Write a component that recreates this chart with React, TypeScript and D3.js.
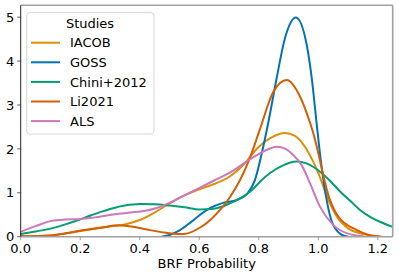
import React from "react";
import * as d3 from "d3";

const xTicks = [0, 0.2, 0.4, 0.6, 0.8, 1.0, 1.2];
const yTicks = [0, 1, 2, 3, 4, 5];
const seriesNames = ["IACOB", "GOSS", "Chini+2012", "Li2021", "ALS"];
const seriesColors = ["#DE8F05", "#0173B2", "#029E73", "#D55E00", "#CC78BC"];

const iacob: [number, number][] = [
  [0, 0.01], [0.1, 0.03], [0.2, 0.13], [0.3, 0.23], [0.35, 0.28], [0.4, 0.38], [0.45, 0.55],
  [0.5, 0.76], [0.55, 0.94], [0.6, 1.08], [0.65, 1.2], [0.7, 1.36], [0.75, 1.65], [0.8, 2.05],
  [0.84, 2.25], [0.888, 2.36], [0.92, 2.3], [0.955, 2.05], [0.98, 1.75], [1.0, 1.45],
  [1.034, 0.84], [1.062, 0.46], [1.1, 0.19], [1.14, 0.08], [1.2, 0.01],
];
const goss: [number, number][] = [
  [0.474, 0], [0.5, 0.04], [0.535, 0.15], [0.57, 0.32], [0.603, 0.5], [0.636, 0.65],
  [0.68, 0.77], [0.726, 0.84], [0.76, 0.97], [0.787, 1.29], [0.815, 2.05], [0.832, 2.6],
  [0.86, 3.61], [0.888, 4.52], [0.925, 4.99], [0.961, 4.37], [0.978, 3.61], [0.995, 2.54],
  [1.01, 1.65], [1.028, 0.84], [1.045, 0.35], [1.056, 0.2], [1.075, 0.06], [1.1, 0.0],
];
const chini: [number, number][] = [
  [0, 0.06], [0.05, 0.12], [0.104, 0.19], [0.15, 0.28], [0.194, 0.38], [0.23, 0.47],
  [0.272, 0.57], [0.31, 0.65], [0.35, 0.71], [0.4, 0.745], [0.45, 0.74], [0.5, 0.71],
  [0.55, 0.67], [0.603, 0.62], [0.64, 0.63], [0.67, 0.67], [0.7, 0.75], [0.737, 0.87],
  [0.78, 1.08], [0.804, 1.25], [0.838, 1.45], [0.88, 1.62], [0.927, 1.71], [0.96, 1.67],
  [1.006, 1.48], [1.04, 1.27], [1.073, 1.03], [1.11, 0.8], [1.14, 0.61], [1.18, 0.43],
  [1.207, 0.34], [1.252, 0.22], [1.3, 0.14],
];
const li2021: [number, number][] = [
  [0, 0.01], [0.1, 0.03], [0.194, 0.13], [0.272, 0.21], [0.33, 0.26], [0.384, 0.22],
  [0.434, 0.15], [0.5, 0.08], [0.546, 0.06], [0.603, 0.21], [0.64, 0.4], [0.67, 0.61],
  [0.703, 0.9], [0.737, 1.29], [0.77, 1.79], [0.804, 2.45], [0.849, 3.3], [0.894, 3.57],
  [0.938, 3.2], [0.972, 2.6], [0.983, 2.36], [1.039, 0.84], [1.067, 0.46], [1.13, 0.15],
  [1.17, 0.04], [1.21, 0.005],
];
const als: [number, number][] = [
  [0, 0.11], [0.05, 0.24], [0.104, 0.36], [0.15, 0.39], [0.194, 0.4], [0.25, 0.44],
  [0.317, 0.51], [0.37, 0.55], [0.418, 0.59], [0.46, 0.66], [0.5, 0.77], [0.55, 0.94],
  [0.603, 1.12], [0.65, 1.28], [0.703, 1.46], [0.77, 1.76], [0.838, 2.01], [0.86, 2.05],
  [0.89, 2.0], [0.916, 1.86], [0.944, 1.63], [0.972, 1.22], [1.006, 0.68], [1.05, 0.27],
  [1.095, 0.08], [1.15, 0.01],
];
const seriesData = [iacob, goss, chini, li2021, als];

const W = 399, H = 278;
const L = 20.7, R = 392.7, T = 5.3, B = 236.7;
const FONT = "'DejaVu Sans', sans-serif";

export default function App() {
  const x = d3.scaleLinear().domain([0, 1.25]).range([L, R]);
  const y = d3.scaleLinear().domain([0, 5.27]).range([B, T]);
  const line = d3
    .line<[number, number]>()
    .x((d) => x(d[0]))
    .y((d) => y(d[1]))
    .curve(d3.curveMonotoneX);

  return (
    <svg width={W} height={H} style={{ position: "absolute", left: 0, top: 0 }} fontFamily={FONT}>
      <defs>
        <clipPath id="plot">
          <rect x={L} y={T} width={R - L} height={B - T} />
        </clipPath>
      </defs>
      <rect x={0} y={0} width={W} height={H} fill="white" />
      <g clipPath="url(#plot)">
        {seriesData.map((d, i) => (
          <path key={i} d={line(d) || ""} fill="none" stroke={seriesColors[i]} strokeWidth={2} strokeLinecap="round" />
        ))}
      </g>
      {/* spines */}
      <line x1={L} x2={R} y1={T} y2={T} stroke="#a0a0a0" strokeWidth={1.6} />
      <line x1={R} x2={R} y1={T} y2={B} stroke="#a0a0a0" strokeWidth={1.6} />
      <line x1={L} x2={R} y1={B} y2={B} stroke="#a0a0a0" strokeWidth={1.6} />
      <line x1={L} x2={L} y1={T} y2={B} stroke="#222" strokeWidth={1} />
      {/* y ticks */}
      {yTicks.map((t) => (
        <g key={"y" + t}>
          <line x1={L - 3.5} x2={L} y1={y(t)} y2={y(t)} stroke="#333" strokeWidth={0.8} />
          <text x={L - 6.5} y={y(t)} dy="0.36em" textAnchor="end" fontSize={13} fill="#000">
            {t}
          </text>
        </g>
      ))}
      {/* x ticks */}
      {xTicks.map((t) => (
        <g key={"x" + t}>
          <line x1={x(t)} x2={x(t)} y1={B} y2={B + 3.5} stroke="#888" strokeWidth={0.8} />
          <text x={x(t)} y={253.3} textAnchor="middle" fontSize={13} fill="#000">
            {t.toFixed(1)}
          </text>
        </g>
      ))}
      <text x={(L + R) / 2} y={268.3} textAnchor="middle" fontSize={13} fill="#000">
        BRF Probability
      </text>
      {/* legend */}
      <rect x={26.7} y={12.7} width={127.3} height={121.3} rx={3} fill="white" fillOpacity={0.8} stroke="#d6d6d6" strokeWidth={1} />
      <text x={90} y={27.7} textAnchor="middle" fontSize={13} fill="#000">
        Studies
      </text>
      {seriesNames.map((name, i) => {
        const ly = 42.7 + i * 19.6;
        return (
          <g key={name}>
            <line x1={31} x2={60} y1={ly} y2={ly} stroke={seriesColors[i]} strokeWidth={2} />
            <text x={70} y={ly + 4.6} fontSize={13} fill="#000">
              {name}
            </text>
          </g>
        );
      })}
    </svg>
  );
}
